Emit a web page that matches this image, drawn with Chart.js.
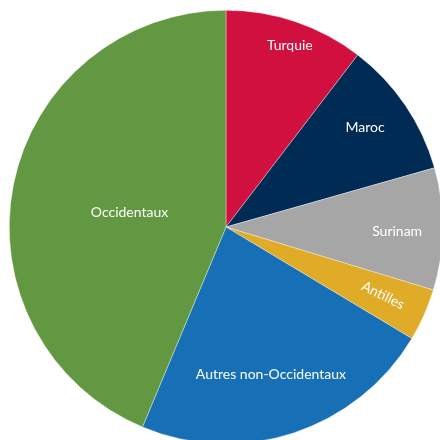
<!DOCTYPE html>
<html>
<head>
<meta charset="utf-8">
<script src="https://cdn.jsdelivr.net/npm/chart.js@4/dist/chart.umd.min.js"></script>
<style>
    html, body { margin: 0; padding: 0; overflow: hidden; background: #fff; width: 440px; height: 440px; }
    #wrap { position: absolute; left: 9px; top: 10px; width: 434px; height: 434px; }
</style>
</head>
<body>
<div id="wrap"><canvas id="myChart"></canvas></div>
<script>
const canvasChart = document.getElementById('myChart');

// parts in percent, clockwise from the top
const categorias = ['Turquie', 'Maroc', 'Surinam', 'Antilles', 'Autres non-Occidentaux', 'Occidentaux'];
const valores = [10.4, 10.2, 9.1, 3.9, 22.7, 43.7];

const cores = ['#d1103f', '#002b55', '#a6a6a6', '#e0ab26', '#1770b6', '#629841'];

// how far out each label sits (fraction of the radius), small angle nudge in degrees,
// and which ones follow the slice direction
const raioRotulo = [0.89, 0.79, 0.79, 0.79, 0.71, 0.45];
const desvioRotulo = [0.6, -1.5, 1, -0.4, 1.2, -3];
const rotulosGirados = [false, false, false, true, false, false];

const rotulos = {
    id: 'rotulos',
    afterDatasetsDraw(chart) {
        const ctx = chart.ctx;
        const meta = chart.getDatasetMeta(0);
        ctx.save();
        ctx.fillStyle = '#ffffff';
        ctx.font = '14px Lato';
        ctx.textAlign = 'center';
        ctx.textBaseline = 'middle';
        meta.data.forEach((arc, i) => {
            const meio = (arc.startAngle + arc.endAngle) / 2 + desvioRotulo[i] * Math.PI / 180;
            const r = arc.outerRadius * raioRotulo[i];
            const x = arc.x + Math.cos(meio) * r;
            const y = arc.y + Math.sin(meio) * r;
            ctx.save();
            ctx.translate(x, y);
            if (rotulosGirados[i]) ctx.rotate(meio + 0.05);
            ctx.fillText(categorias[i], 0, 0);
            ctx.restore();
        });
        ctx.restore();
    }
};

window.myChart = new Chart(canvasChart, {
    type: 'pie',
    data: {
        labels: categorias,
        datasets: [{
            data: valores,
            backgroundColor: cores,
            borderColor: 'rgba(255,255,255,0.6)',
            borderWidth: 0.6
        }]
    },
    options: {
        responsive: true,
        maintainAspectRatio: false,
        animation: false,
        layout: { padding: 0 },
        plugins: {
            legend: { display: false },
            tooltip: { enabled: false }
        }
    },
    plugins: [rotulos]
});
</script>
</body>
</html>
